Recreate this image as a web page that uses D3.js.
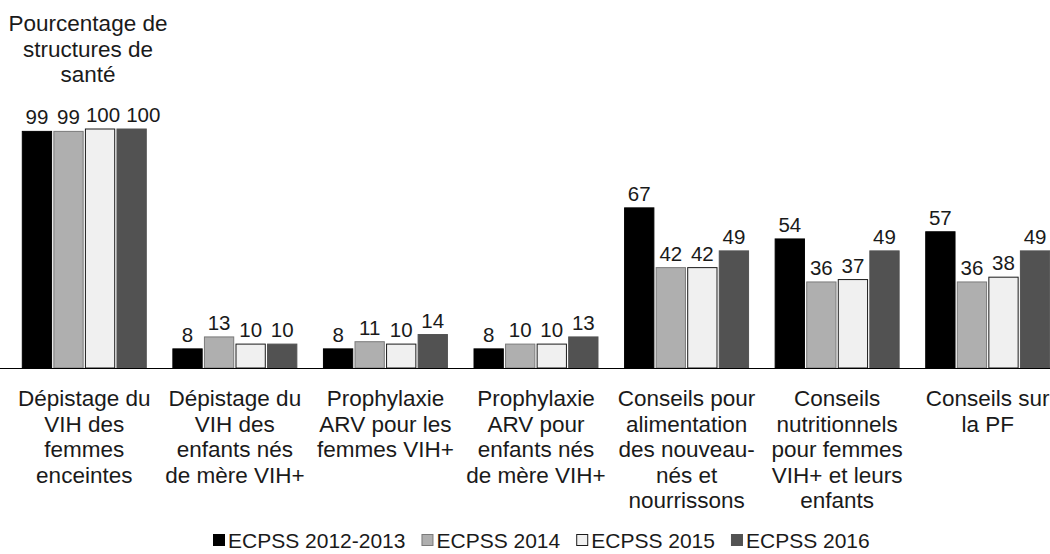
<!DOCTYPE html>
<html>
<head>
<meta charset="utf-8">
<script src="https://cdn.jsdelivr.net/npm/d3@7"></script>
<style>
  body { margin: 0; background: #fff; }
  svg { display: block; font-family: "Liberation Sans", Arial, sans-serif; }
</style>
</head>
<body>
<svg id="chart" width="1050" height="554"></svg>
<script>
// categories (each label split in lines as in the picture)
const categories = [
  ["Dépistage du", "VIH des", "femmes", "enceintes"],
  ["Dépistage du", "VIH des", "enfants nés", "de mère VIH+"],
  ["Prophylaxie", "ARV pour les", "femmes VIH+"],
  ["Prophylaxie", "ARV pour", "enfants nés", "de mère VIH+"],
  ["Conseils pour", "alimentation", "des nouveau-", "nés et", "nourrissons"],
  ["Conseils", "nutritionnels", "pour femmes", "VIH+ et leurs", "enfants"],
  ["Conseils sur", "la PF"]
];
const seriesNames = ["ECPSS 2012-2013", "ECPSS 2014", "ECPSS 2015", "ECPSS 2016"];
const v2012 = [99, 8, 8, 8, 67, 54, 57];
const v2014 = [99, 13, 11, 10, 42, 36, 36];
const v2015 = [100, 10, 10, 10, 42, 37, 38];
const v2016 = [100, 10, 14, 13, 49, 49, 49];
const yTitle = ["Pourcentage de", "structures de", "santé"];

const fills = ["#000000", "#afafaf", "#f0f0f0", "#525252"];
const strokes = ["#000000", "#7a7a7a", "#1a1a1a", "#525252"];
const allValues = [v2012, v2014, v2015, v2016];

const svg = d3.select("#chart");
const left = 9, right = 1063, base = 368;
const textColor = "#1a1a1a";

const x0 = d3.scaleBand().domain(d3.range(categories.length)).range([left, right]).paddingInner(0.17).paddingOuter(0.085);
const x1 = d3.scaleBand().domain(d3.range(seriesNames.length)).range([0, x0.bandwidth()]).paddingInner(0.04);
const y = d3.scaleLinear().domain([0, 100]).range([base, 129]);

// bars
categories.forEach((c, i) => {
  const g = svg.append("g").attr("transform", `translate(${x0(i)},0)`);
  let prevEnd = -Infinity;
  allValues.forEach((vals, s) => {
    g.append("rect")
      .attr("x", x1(s) + 0.5)
      .attr("y", y(vals[i]))
      .attr("width", x1.bandwidth() - 1)
      .attr("height", base - y(vals[i]))
      .attr("fill", fills[s])
      .attr("stroke", strokes[s])
      .attr("stroke-width", 1);
    const lab = g.append("text")
      .attr("x", x1(s) + x1.bandwidth() / 2)
      .attr("y", y(vals[i]) - 7)
      .attr("text-anchor", "middle")
      .attr("font-size", "20.5px")
      .attr("fill", textColor)
      .text(vals[i]);
    // push a label right when it would touch the previous one
    const w = lab.node().getComputedTextLength();
    let cx = x1(s) + x1.bandwidth() / 2;
    if (cx - w / 2 < prevEnd + 6) {
      cx = prevEnd + 6 + w / 2;
      lab.attr("x", cx);
    }
    prevEnd = cx + w / 2;
  });
});

// axis line
svg.append("line")
  .attr("x1", 0).attr("x2", 1050)
  .attr("y1", base + 0.5).attr("y2", base + 0.5)
  .attr("stroke", "#000").attr("stroke-width", 1);

// category labels
categories.forEach((lines, i) => {
  const t = svg.append("text")
    .attr("text-anchor", "middle")
    .attr("font-size", "22.5px")
    .attr("fill", textColor);
  lines.forEach((l, k) => {
    t.append("tspan")
      .attr("x", x0(i) + x0.bandwidth() / 2)
      .attr("y", 406 + k * 25.5)
      .text(l);
  });
});

// y title
const tt = svg.append("text")
  .attr("text-anchor", "middle")
  .attr("font-size", "22.5px")
  .attr("fill", textColor);
yTitle.forEach((l, k) => {
  tt.append("tspan").attr("x", 88).attr("y", 31 + k * 25.5).text(l);
});

// legend
const legend = svg.append("g");
let lx = 0;
seriesNames.forEach((name, s) => {
  const item = legend.append("g").attr("transform", `translate(${lx},0)`);
  item.append("rect")
    .attr("x", 0.5).attr("y", -13.5)
    .attr("width", 11).attr("height", 11)
    .attr("fill", fills[s]).attr("stroke", strokes[s]);
  const t = item.append("text")
    .attr("x", 15).attr("y", 0)
    .attr("font-size", "21px")
    .attr("fill", textColor)
    .text(name);
  lx += 15 + t.node().getComputedTextLength() + 16;
});
legend.attr("transform", `translate(213,548)`);
</script>
</body>
</html>
